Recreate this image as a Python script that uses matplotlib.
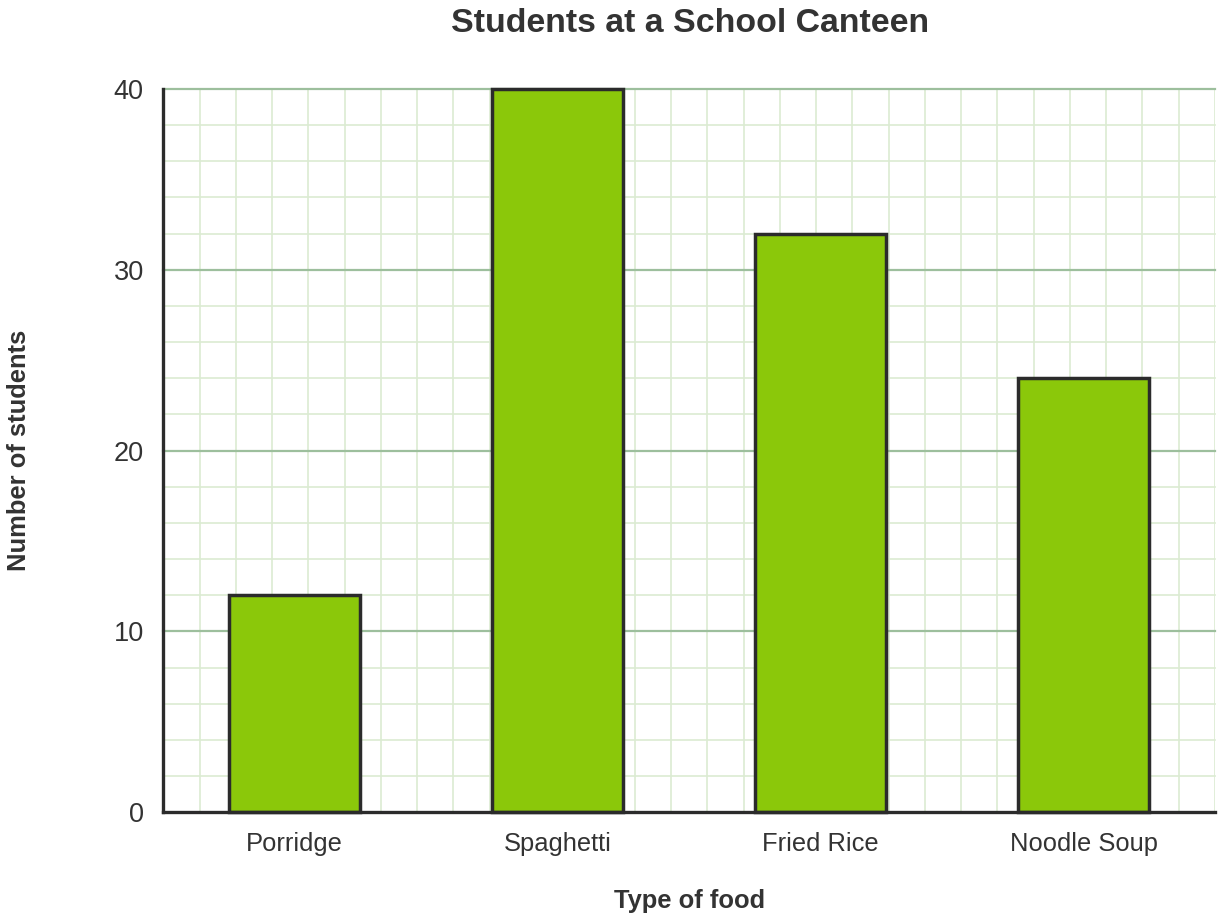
import numpy as np
import matplotlib
matplotlib.use("Agg")
import matplotlib.pyplot as plt

foods = ["Porridge", "Spaghetti", "Fried Rice", "Noodle Soup"]
students = [12, 40, 32, 24]
y_ticks = [0, 10, 20, 30, 40]

INK = "#2b2b2b"
TXT = "#333333"
BAR = "#8bc80a"
MAJOR = "#9dbf9d"
MINOR = "#dcebd2"

plt.rcParams["font.family"] = ["Liberation Sans", "DejaVu Sans"]

fig = plt.figure(figsize=(12.24, 9.22), dpi=100)
ax = fig.add_axes([163.3 / 1224, 1 - 812.3 / 922, (1215 - 163.3) / 1224, (812.3 - 89) / 922])

x = np.arange(len(foods))
ax.set_xlim(-0.5, len(foods) - 0.5)
ax.set_ylim(0, 40)

# square grid paper: minor every 2 units on y, same pixel step on x
for yv in np.arange(2, 41, 2):
    major = yv % 10 == 0
    ln = ax.axhline(yv, color=MAJOR if major else MINOR, lw=1.6 if major else 1.2,
                    zorder=1 if major else 0)
    ln.set_clip_on(False)
n_cols = 29
for xv in -0.5 + np.arange(1, n_cols + 1) * len(foods) / n_cols:
    ax.axvline(xv, color=MINOR, lw=1.2, zorder=0)

bars = ax.bar(x, students, width=0.5, color=BAR, edgecolor=INK, linewidth=2.5, zorder=3)
for b in bars:
    b.set_clip_on(False)

for s in ("top", "right"):
    ax.spines[s].set_visible(False)
for s in ("left", "bottom"):
    ax.spines[s].set_color(INK)
    ax.spines[s].set_linewidth(2.4)
    ax.spines[s].set_zorder(5)

ax.set_xticks(x)
ax.set_xticklabels(foods)
ax.set_yticks(y_ticks)
ax.tick_params(axis="both", length=0, colors=TXT)
ax.tick_params(axis="x", labelsize=18.4, pad=14)
ax.tick_params(axis="y", labelsize=19.5, pad=14)

fig.text(690 / 1224, 1 - 23 / 922, "Students at a School Canteen", ha="center", va="center",
         fontsize=24.4, fontweight="bold", color=TXT)
fig.text(690 / 1224, 1 - 901 / 922, "Type of food", ha="center", va="center",
         fontsize=18.4, fontweight="bold", color=TXT)
fig.text(19 / 1224, 1 - 450 / 922, "Number of students", ha="center", va="center",
         rotation=90, fontsize=18.4, fontweight="bold", color=TXT)

fig.savefig("out.png", dpi=100, facecolor="white")
